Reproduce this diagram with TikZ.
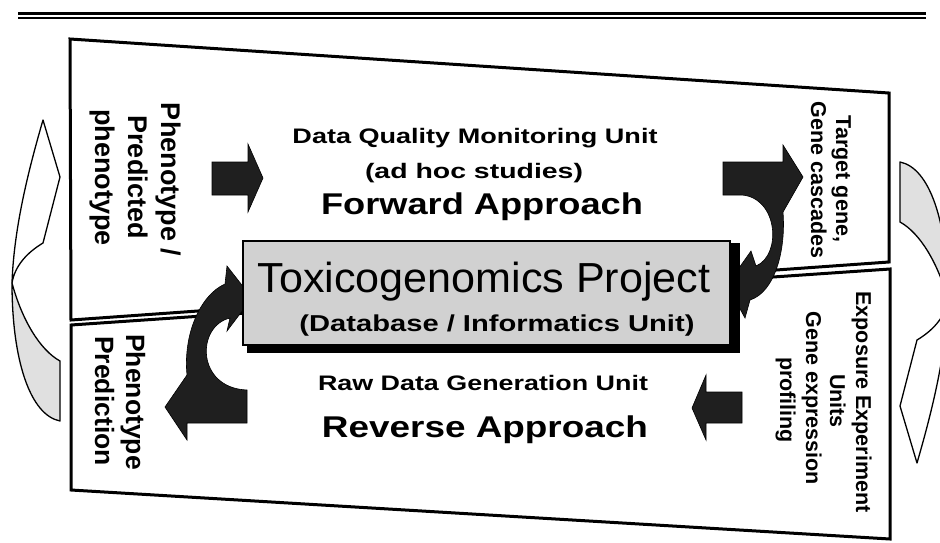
\documentclass[tikz,border=0pt]{standalone}
\usepackage{fontspec}
\setmainfont{Liberation Sans}
\usepackage{graphicx}
\newcommand{\fitw}[2]{\resizebox{#1pt}{\height}{#2}}
\begin{document}
\begin{tikzpicture}[x=1pt,y=-1pt,
  panel/.style={draw=black, line width=3pt, fill=white, line join=miter},
  hlabel/.style={anchor=base, inner sep=0pt, font=\bfseries\fontsize{21}{25}\selectfont},
  biglabel/.style={anchor=base, inner sep=0pt, font=\bfseries\fontsize{30}{36}\selectfont},
  vlabel/.style={anchor=base, inner sep=0pt, rotate=-90, font=\bfseries\fontsize{#1}{#1}\selectfont},
  blockarrow/.style={fill=black!88, draw=black, line width=0.6pt, line join=miter},
  outarrow/.style={draw=black, line width=1.3pt, fill=white, line join=round},
  tailfill/.style={draw=black, line width=1.3pt, fill=black!12, line join=round}]
\useasboundingbox (0,0) rectangle (940,542);
\fill[white] (0,0) rectangle (940,542);
% header rule
\draw[line width=3pt] (18,13) -- (926,13);
\draw[line width=1.5pt] (18,18) -- (926,18);
% panels
\draw[panel] (70,39) -- (889,93) -- (889,262) -- (71,320) -- cycle;
\draw[panel] (71,325) -- (890,269) -- (890,539) -- (71,490) -- cycle;
% outer curved outline arrows
\begin{scope}
  \clip (0,0) rectangle (940,542);
  \draw[outarrow] (43,120) -- (60,177) -- (43,243) .. controls (28,252) and (15,265) .. (12,283)
     .. controls (14,225) and (30,165) .. (43,120) -- cycle;
  \draw[tailfill] (12,283) .. controls (22,320) and (40,350) .. (60,361) -- (60,421)
     .. controls (30,415) and (12,360) .. (12,283) -- cycle;
  \begin{scope}[rotate around={180:(480,291.5)}]
    \draw[outarrow] (43,120) -- (60,177) -- (43,243) .. controls (28,252) and (15,265) .. (12,283)
       .. controls (14,225) and (30,165) .. (43,120) -- cycle;
    \draw[tailfill] (12,283) .. controls (22,320) and (40,350) .. (60,361) -- (60,421)
       .. controls (30,415) and (12,360) .. (12,283) -- cycle;
  \end{scope}
\end{scope}
% texts upper panel
\node[hlabel] (dq) at (475,143) {\fitw{365}{Data Quality Monitoring Unit}};
\node[hlabel] (adhoc) at (474,178) {\fitw{218}{(ad hoc studies)}};
\node[biglabel] (fwd) at (482,214) {\fitw{322}{Forward Approach}};
% texts lower panel
\node[hlabel] (raw) at (483,390) {\fitw{330}{Raw Data Generation Unit}};
\node[biglabel] (rev) at (485,437) {\fitw{326}{Reverse Approach}};
% rotated labels
\node[vlabel=27] (ph1) at (161,179.5) {Phenotype /};
\node[vlabel=27] (ph2) at (128,177) {Predicted};
\node[vlabel=27] (ph3) at (95,177.5) {phenotype};
\node[vlabel=21.5] (tg1) at (836,179) {Target gene,};
\node[vlabel=21.5] (tg2) at (811,180) {Gene cascades};
\node[vlabel=21.5] (ex1) at (856,402) {Exposure Experiment};
\node[vlabel=21.5] (ex2) at (830,401) {Units};
\node[vlabel=21.5] (ex3) at (806,398) {Gene expression};
\node[vlabel=21.5] (ex4) at (780,400) {profiling};
\node[vlabel=26.5] (pp1) at (126,402) {Phenotype};
\node[vlabel=26.5] (pp2) at (95,401) {Prediction};
% straight block arrows
\draw[blockarrow] (212,162) -- (248,162) -- (248,144) -- (263,178) -- (248,212) -- (248,195) -- (212,195) -- cycle;
\draw[blockarrow] (742,392) -- (706,392) -- (706,375) -- (692,408) -- (706,440) -- (706,423) -- (742,423) -- cycle;
% curved block arrows
\draw[blockarrow] (165,407) -- (187,375) .. controls (183,335) and (200,295) .. (225,284) -- (227,266) -- (252,298)
   -- (227,331) -- (230,318) .. controls (196,326) and (196,388) .. (247,390) -- (247,423) -- (187,423) -- (187,440) -- cycle;
\draw[blockarrow] (803,177) -- (783,145) -- (783,162) -- (723,162) -- (723,195) -- (742,195)
   .. controls (778,198) and (782,255) .. (756,266) -- (751,251) -- (727,285) -- (745,318) -- (750,300)
   .. controls (775,292) and (786,250) .. (783,212) -- cycle;
% central project box
\fill[black] (247,243) rectangle (740,353);
\node[draw=black, line width=2pt, fill=black!18, minimum width=487pt, minimum height=104pt, inner sep=0pt] (proj) at (486.5,293) {};
\node[anchor=base, inner sep=0pt, font=\fontsize{42}{48}\selectfont] (tox) at (484,292) {\fitw{453}{Toxicogenomics Project}};
\node[anchor=base, inner sep=0pt, font=\bfseries\fontsize{23}{28}\selectfont] (db) at (497,331) {\fitw{395}{(Database / Informatics Unit)}};
\end{tikzpicture}
\end{document}
